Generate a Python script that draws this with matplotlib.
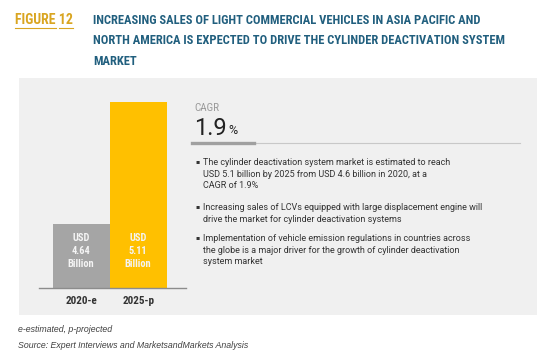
import matplotlib.pyplot as plt
from matplotlib.patches import Rectangle

# data
years = ['2020-e', '2025-p']
values = [4.64, 5.11]
bar_colors = ['#a5a5a5', '#ffc000']
cagr = '1.9'
bullets = [
    'The cylinder deactivation system market is estimated to reach\nUSD 5.1 billion by 2025 from USD 4.6 billion in 2020, at a\nCAGR of 1.9%',
    'Increasing sales of LCVs equipped with large displacement engine will\ndrive the market for cylinder deactivation systems',
    'Implementation of vehicle emission regulations in countries across\nthe globe is a major driver for the growth of cylinder deactivation\nsystem market',
]
title = ('INCREASING SALES OF LIGHT COMMERCIAL VEHICLES IN ASIA PACIFIC AND\n'
         'NORTH AMERICA IS EXPECTED TO DRIVE THE CYLINDER DEACTIVATION SYSTEM\n'
         'MARKET')

cond = ['Roboto Condensed', 'DejaVu Sans']
body = ['Roboto', 'DejaVu Sans']

W, H = 550, 363
fig = plt.figure(figsize=(5.5, 3.63), dpi=100)
fig.patch.set_facecolor('white')

def fx(x):
    return x / W

def fy(y):
    return 1 - y / H

# grey panel behind everything
fig.patches.append(Rectangle((fx(19), fy(315)), fx(537) - fx(19), fy(78) - fy(315),
                             transform=fig.transFigure, facecolor='#f0f0f0',
                             edgecolor='none', zorder=-5))

# title
gold = '#d9a521'
fig.text(fx(15), fy(20), 'FIGURE 12', color=gold, fontsize=10, fontweight='bold',
         family=cond, va='center', ha='left')
fig.add_artist(plt.Line2D([fx(15), fx(56)], [fy(27.5), fy(27.5)], color=gold, lw=0.8))
fig.add_artist(plt.Line2D([fx(59), fx(73)], [fy(27.5), fy(27.5)], color=gold, lw=0.8))
fig.text(fx(93), fy(41), title, color='#215f7e', fontsize=9, fontweight='bold',
         family=cond, va='center', ha='left', linespacing=1.72)

# bar chart, y axis cut so the bars start near 4.39
ax = fig.add_axes([fx(39), fy(288), fx(186) - fx(39), fy(90) - fy(288)])
ax.set_facecolor('none')
x = [0, 1]
ax.bar(x, values, width=1.0, color=bar_colors, zorder=2)
ax.set_xlim(-0.74, 1.84)
ax.set_ylim(4.393, 4.393 + 198 / 259.6)
label_y = values[0] - 0.035
for i, v in enumerate(values):
    ax.text(i, label_y, 'USD\n%.2f\nBillion' % v, ha='center', va='top', color='#f4f4f4',
            fontsize=7.5, fontweight='bold', family=cond, linespacing=1.4, zorder=3)
for s in ['top', 'right', 'left']:
    ax.spines[s].set_visible(False)
ax.spines['bottom'].set_color('#8c8c8c')
ax.spines['bottom'].set_linewidth(1.0)
ax.spines['bottom'].set_zorder(4)
ax.set_yticks([])
ax.set_xticks(x)
ax.set_xticklabels(years, fontsize=8, fontweight='bold', family=cond, color='#333333')
ax.tick_params(axis='x', length=0, pad=6)

# CAGR box
fig.text(fx(194), fy(108), 'CAGR', color='#9a9a9a', fontsize=8, family=cond,
         va='center', ha='left')
fig.text(fx(194), fy(129), cagr, color='#222222', fontsize=17, family=body,
         va='center', ha='left')
fig.text(fx(228), fy(131), '%', color='#222222', fontsize=9, family=body,
         va='center', ha='left')
fig.add_artist(plt.Line2D([fx(192), fx(520)], [fy(143), fy(143)], color='#c8c8c8', lw=0.8))
fig.add_artist(plt.Line2D([fx(192), fx(254)], [fy(143), fy(143)], color='#a0a0a0', lw=2.4))

ys = [162, 207, 238]
for yy, txt in zip(ys, bullets):
    fig.text(fx(195.5), fy(yy), '\u25aa', color='#333333', fontsize=4.5, va='center', ha='left')
    fig.text(fx(203), fy(yy) + 0.011, txt, color='#333333', fontsize=6.5, family=body,
             va='top', ha='left', linespacing=1.38)

# footnotes
fig.text(fx(18), fy(330), 'e-estimated, p-projected', style='italic', fontsize=6.3,
         color='#404040', family='Liberation Sans', va='center')
fig.text(fx(18), fy(346), 'Source: Expert Interviews and MarketsandMarkets Analysis',
         style='italic', fontsize=6.3, color='#404040', family='Liberation Sans', va='center')

fig.savefig('out.png', dpi=100)
